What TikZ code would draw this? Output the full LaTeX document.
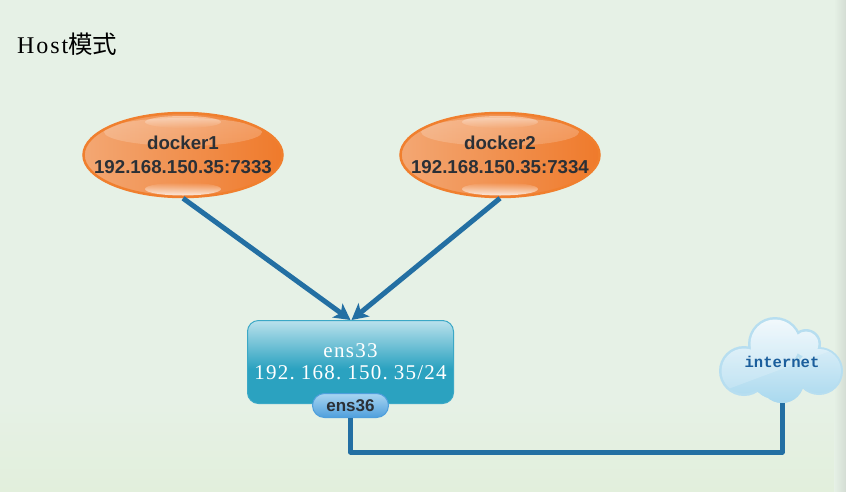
\documentclass[tikz,border=0pt]{standalone}
\usepackage{fontspec}
\setmainfont{Liberation Serif}
\newfontfamily\arialfont{Liberation Sans}
\newfontfamily\monofont{Liberation Mono}
\newfontfamily\cjkfont{Noto Sans CJK SC}
\newfontfamily\spacedA[LetterSpace=8]{Liberation Serif}
\newfontfamily\spacedB[LetterSpace=6]{Liberation Serif}
\usetikzlibrary{arrows.meta,shapes.geometric,shapes.misc,fadings}
\definecolor{bgtop}{HTML}{E6F1E6}
\definecolor{bgbot}{HTML}{E2EFDC}
\definecolor{linkblue}{HTML}{236FA3}
\definecolor{orangeedge}{HTML}{F07F2E}
\definecolor{orangeL}{HTML}{F3A773}
\definecolor{orangeR}{HTML}{EF7A2B}
\definecolor{darktext}{HTML}{2B3036}
\definecolor{tealbase}{HTML}{2BA2C0}
\definecolor{tealtop}{HTML}{B9E1EC}
\definecolor{tealedge}{HTML}{3BA8C6}
\definecolor{pilltop}{HTML}{A9D5F1}
\definecolor{pillbot}{HTML}{4F9FDC}
\definecolor{cloudedge}{HTML}{B7DEF0}
\definecolor{cloudtop}{HTML}{F0F8FC}
\definecolor{cloudbot}{HTML}{A8D8EE}
\definecolor{cloudtext}{HTML}{1B5E9C}
\pgfdeclareverticalshading{nicshade}{100bp}{color(0bp)=(tealbase); color(46bp)=(tealbase); color(75bp)=(tealtop); color(100bp)=(tealtop)}
\tikzset{
  dockerbox/.style={ellipse,draw=orangeedge,line width=2.5pt,left color=orangeL,right color=orangeR,
    minimum width=199pt,minimum height=84pt,inner sep=0pt,
    path picture={
      \fill[white,opacity=.28,path fading=south]([yshift=23pt]path picture bounding box.center) ellipse [x radius=79pt,y radius=14pt];
      \fill[white,opacity=.45,path fading=south]([yshift=33pt]path picture bounding box.center) ellipse [x radius=38pt,y radius=6pt];
      \fill[white,opacity=.8,path fading=north]([yshift=-34pt]path picture bounding box.center) ellipse [x radius=38pt,y radius=6.5pt];
    }},
  dockertext/.style={inner sep=0pt,align=center,text=darktext,
    font=\arialfont\bfseries\fontsize{18.7}{23.5}\selectfont},
  linkline/.style={draw=linkblue,line width=5pt},
  linkarrow/.style={linkline,-{Stealth[length=16pt,width=17pt,inset=4pt]}},
  nicbox/.style={rectangle,rounded corners=11pt,draw=tealedge,line width=1pt,shading=nicshade,minimum width=206pt,minimum height=83pt,
    inner sep=0pt,align=center,text=white,font=\fontsize{21}{22}\selectfont},
  pillbox/.style={rounded rectangle,draw=pillbot,line width=1pt,top color=pilltop,bottom color=pillbot,
    minimum width=76pt,minimum height=24pt,inner sep=0pt,text=darktext,font=\arialfont\bfseries\fontsize{17}{20}\selectfont},
  cloudlabel/.style={minimum width=120pt,minimum height=82pt,inner sep=0pt,text=cloudtext,font=\monofont\bfseries\fontsize{15.6}{18}\selectfont}
}
\begin{document}
\begin{tikzpicture}[x=1pt,y=-1pt]
\useasboundingbox (0,0) rectangle (846,491);
% background
\fill[bgtop] (0,0) rectangle (846,400);
\shade[top color=bgtop,bottom color=bgbot] (0,400) rectangle (846,491);
\shade[left color=bgtop,right color=bgtop!82!gray] (834,0) rectangle (846,491);
% cloud body
\begin{scope}
  \clip (744,371) circle (25) (775,344) circle (27) (806,344) circle (15) (819,371) circle (24) (782,381) circle (22) (775,375) circle (24);
  \fill[cloudedge] (715,312) rectangle (846,405);
\end{scope}
\begin{scope}
  \clip (744,371) circle (22.5) (775,344) circle (24.5) (806,344) circle (12.5) (819,371) circle (22) (782,381) circle (22) (775,375) circle (24);
  \shade[top color=cloudtop,bottom color=cloudbot] (715,318) rectangle (846,404);
  \fill[white,opacity=.18] (715,318) -- (846,318) -- (846,345) -- (720,392) -- cycle;
\end{scope}
% nodes
\node[font=\fontsize{24}{26}\selectfont,anchor=base west,inner sep=0pt] (title) at (17,53) {\spacedA Host\cjkfont\fontsize{24.5}{26}\selectfont 模式};
\node[dockerbox,label={[dockertext]center:{docker1\\192.168.150.35:7333}}] (docker1) at (183,155) {};
\node[dockerbox,label={[dockertext]center:{docker2\\192.168.150.35:7334}}] (docker2) at (500,155) {};
\node[nicbox] (ens33) at (350.5,362) {{\spacedB ens33}\\{\spacedB 192.\kern6pt 168.\kern6pt 150.\kern6pt 35/24}};
\node[pillbox] (ens36) at (350.5,405.5) {ens36};
\node[cloudlabel] (internet) at (782,362) {internet};
\coordinate (bend) at (351,452);
% connectors
\draw[linkarrow] (docker1.south) -- ([xshift=0pt]ens33.north);
\draw[linkarrow] (docker2.south) -- ([xshift=1pt]ens33.north);
\draw[linkline,line join=round] (ens36.south) |- (bend) -| (internet.south);
\end{tikzpicture}
\end{document}
